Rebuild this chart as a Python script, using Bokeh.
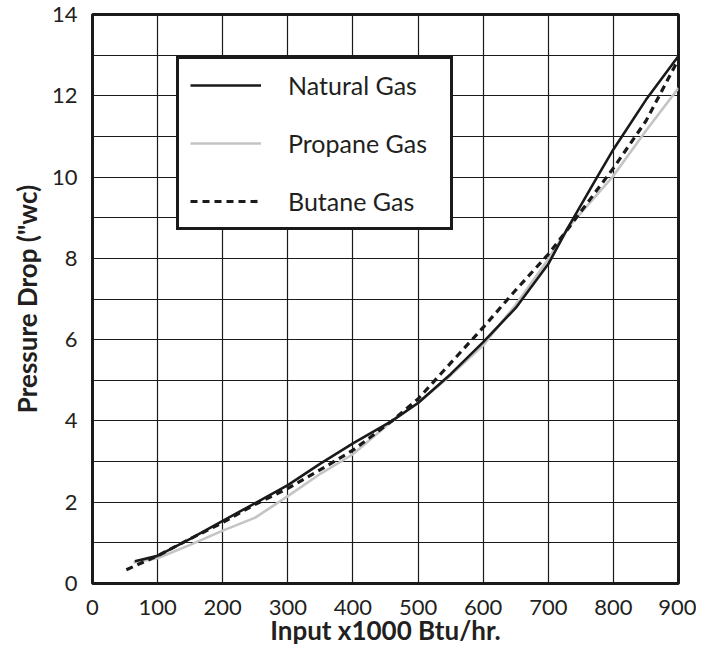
from bokeh.plotting import figure
from bokeh.models import Range1d, FixedTicker, Legend, LegendItem
from bokeh.embed import file_html
from bokeh.resources import INLINE

# ---- data ----
natural_x = [65, 100, 150, 200, 250, 300, 350, 400, 460, 500, 550, 600, 650, 700, 730, 775, 800, 850, 900]
natural_y = [0.55, 0.68, 1.1, 1.54, 1.98, 2.42, 2.95, 3.45, 4.0, 4.44, 5.15, 5.94, 6.78, 7.86, 8.75, 10.0, 10.68, 11.9, 12.98]

propane_x = [63, 100, 150, 200, 250, 300, 350, 400, 460, 500, 550, 600, 650, 700, 730, 800, 850, 900]
propane_y = [0.52, 0.62, 0.95, 1.30, 1.62, 2.15, 2.70, 3.18, 4.0, 4.44, 5.12, 5.86, 6.86, 7.98, 8.75, 10.03, 11.14, 12.19]

butane_x = [52, 100, 150, 200, 250, 300, 350, 400, 460, 500, 535, 600, 650, 700, 730, 800, 850, 900]
butane_y = [0.34, 0.68, 1.1, 1.5, 1.95, 2.34, 2.8, 3.28, 4.0, 4.54, 5.16, 6.3, 7.22, 8.1, 8.72, 10.22, 11.38, 12.9]

x_ticks = [0, 100, 200, 300, 400, 500, 600, 700, 800, 900]
y_ticks = [0, 2, 4, 6, 8, 10, 12, 14]
y_grid = list(range(0, 15))

series_names = ["Natural Gas", "Propane Gas", "Butane Gas"]

FONT = "Lato"
TXT = "#231f20"

p = figure(width=696, height=648,
           min_border_left=92, min_border_right=18, min_border_top=14, min_border_bottom=58,
           x_range=Range1d(0, 900), y_range=Range1d(0, 14),
           output_backend="svg", toolbar_location=None)

p.outline_line_color = "#1a1a1a"
p.outline_line_width = 3
p.outline_line_alpha = 1.0
p.background_fill_color = "white"
p.border_fill_color = "white"

for ax in (p.xaxis, p.yaxis):
    ax.axis_line_color = None
    ax.major_tick_line_color = None
    ax.minor_tick_line_color = None
    ax.major_label_text_font = FONT
    ax.major_label_text_font_size = "22px"
    ax.major_label_text_color = TXT
    ax.axis_label_text_font = FONT
    ax.axis_label_text_font_size = "26px"
    ax.axis_label_text_font_style = "bold"
    ax.axis_label_text_color = TXT

p.xaxis.ticker = FixedTicker(ticks=x_ticks)
p.yaxis.ticker = FixedTicker(ticks=y_ticks)
p.xaxis.major_label_standoff = 10
p.yaxis.major_label_standoff = 9
p.xaxis.axis_label = "Input x1000 Btu/hr."
p.yaxis.axis_label = "Pressure Drop (\"wc)"
p.xaxis.axis_label_standoff = -4
p.yaxis.axis_label_standoff = 6

p.xgrid.ticker = FixedTicker(ticks=x_ticks)
p.ygrid.ticker = FixedTicker(ticks=y_grid)
p.xgrid.grid_line_color = "#1a1a1a"
p.ygrid.grid_line_color = "#1a1a1a"
p.xgrid.grid_line_width = 1.2
p.ygrid.grid_line_width = 1.2

r_prop = p.line(propane_x, propane_y, line_color="#c4c4c4", line_width=2.6)
r_nat = p.line(natural_x, natural_y, line_color="#1a1a1a", line_width=2.6)
r_but = p.line(butane_x, butane_y, line_color="#1a1a1a", line_width=3.2, line_dash="7 5")

legend = Legend(items=[LegendItem(label=series_names[0], renderers=[r_nat]),
                       LegendItem(label=series_names[1], renderers=[r_prop]),
                       LegendItem(label=series_names[2], renderers=[r_but])],
                location=(84, 353))
legend.border_line_color = "#1a1a1a"
legend.border_line_width = 3
legend.border_line_alpha = 1.0
legend.background_fill_color = "white"
legend.background_fill_alpha = 1.0
legend.label_text_font = FONT
legend.label_text_font_size = "25px"
legend.label_text_color = TXT
legend.glyph_width = 71
legend.glyph_height = 22
legend.label_height = 22
legend.label_standoff = 27
legend.label_width = 151
legend.spacing = 28
legend.padding = 11
legend.margin = 0
p.add_layout(legend)

open("out.html", "w").write(file_html(p, INLINE))
